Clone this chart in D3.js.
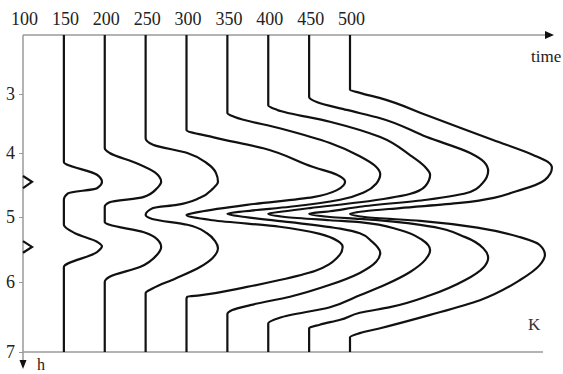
<!DOCTYPE html>
<html>
<head>
<meta charset="utf-8">
<script src="https://cdnjs.cloudflare.com/ajax/libs/d3/7.8.5/d3.min.js"></script>
<style>
  body { margin: 0; background: #fff; }
  svg { display: block; }
</style>
</head>
<body>
<div class="chart"></div>
<script>
// tick labels
var timeTicks = [100, 150, 200, 250, 300, 350, 400, 450, 500];
var hTicks = [3, 4, 5, 6, 7];

// each curve: [h, time] pairs
var curve100a = [[4.36, 100], [4.45, 111], [4.55, 100]];
var curve100b = [[5.37, 100], [5.46, 111], [5.55, 100]];
var curve150 = [[2, 150], [4.14, 150], [4.34, 190.5], [4.45, 196.6], [4.55, 190.5], [4.63, 155], [4.73, 150], [5.12, 150], [5.25, 163.6], [5.38, 190.5], [5.45, 196.6], [5.54, 190.5], [5.77, 150], [7, 150]];
var curve200 = [[2, 200], [3.92, 200], [4.00, 206], [4.16, 239], [4.30, 261], [4.45, 269], [4.55, 264], [4.69, 247], [4.77, 206], [4.84, 200], [5.08, 200], [5.12, 206], [5.23, 247], [5.31, 261], [5.46, 269], [5.58, 264], [5.77, 243], [5.92, 206], [6.00, 200], [7, 200]];
var curve250 = [[2, 250], [3.75, 250], [3.86, 259], [4.00, 301], [4.16, 325], [4.31, 336], [4.45, 338.5], [4.56, 332], [4.70, 316.5], [4.81, 288], [4.86, 259], [4.97, 250], [5.03, 258], [5.12, 301], [5.25, 325], [5.37, 335], [5.48, 338.5], [5.63, 332], [5.77, 316.5], [5.95, 286], [6.09, 259], [6.16, 250], [7, 250]];
var curve300 = [[2, 300], [3.61, 300], [3.73, 332], [3.92, 394], [4.22, 455], [4.34, 484], [4.45, 494], [4.58, 484], [4.69, 455], [4.81, 374], [4.92, 316], [4.97, 300], [5.05, 332], [5.15, 414], [5.26, 463], [5.37, 485], [5.46, 491], [5.63, 484], [5.83, 457], [5.97, 414], [6.07, 374], [6.19, 316], [6.21, 301], [6.24, 300], [7, 300]];
var curve350 = [[2, 350], [3.32, 350], [3.39, 359], [3.58, 414], [3.83, 475.5], [4.05, 512], [4.20, 530.6], [4.33, 537], [4.48, 532], [4.61, 518], [4.73, 488], [4.84, 426.6], [4.91, 371.6], [4.95, 350], [5.00, 371.6], [5.08, 426.6], [5.18, 488], [5.25, 512], [5.38, 527], [5.55, 537], [5.69, 532], [5.86, 512], [6.04, 475.5], [6.21, 426.6], [6.33, 378], [6.40, 356], [6.46, 350], [7, 350]];
var curve400 = [[2, 400], [3.19, 400], [3.27, 411], [3.47, 475.5], [3.73, 537], [4.03, 573], [4.22, 592], [4.34, 598], [4.52, 592], [4.64, 573], [4.77, 512], [4.86, 451], [4.91, 420.5], [4.95, 400], [5.00, 420.5], [5.05, 475.5], [5.08, 512], [5.20, 561], [5.35, 588], [5.51, 598], [5.66, 592], [5.85, 573], [6.04, 543], [6.19, 512], [6.36, 475.5], [6.51, 414], [6.59, 400], [7, 400]];
var curve450 = [[2, 450], [3.05, 450], [3.14, 460], [3.27, 496], [3.41, 537], [3.73, 594], [4.00, 647], [4.14, 664], [4.28, 669], [4.48, 661.5], [4.61, 647], [4.73, 594], [4.84, 512], [4.91, 475.5], [4.95, 450], [5.00, 475.5], [5.03, 512], [5.12, 586], [5.31, 641], [5.48, 663], [5.63, 669], [5.78, 663], [5.97, 641], [6.19, 598], [6.36, 549], [6.44, 512], [6.54, 488], [6.61, 463], [6.66, 450], [7, 450]];
var curve500 = [[2, 500], [2.93, 500], [2.98, 512], [3.07, 537], [3.36, 594], [3.78, 675], [4.03, 724], [4.14, 742], [4.23, 747], [4.42, 738.5], [4.58, 708], [4.78, 634.5], [4.86, 561], [4.91, 518], [4.95, 500], [5.00, 518], [5.06, 586], [5.17, 659], [5.31, 708], [5.43, 732], [5.58, 738.5], [5.74, 732], [5.97, 708], [6.26, 659], [6.47, 598], [6.66, 537], [6.73, 512], [6.79, 500], [7, 500]];

var curves = [curve150, curve200, curve250, curve300, curve350, curve400, curve450, curve500];
var markers = [curve100a, curve100b];

var width = 563;
var height = 374;
var axisColor = "#9a9a9a";
var font = "'Liberation Serif', 'Times New Roman', serif";

var svg = d3.select(".chart")
  .append("svg")
  .attr("width", width)
  .attr("height", height);

// time runs left to right, h runs down (spacing of h ticks is uneven in the source)
var xScale = d3.scaleLinear()
  .domain([100, 500])
  .range([23, 350]);

var yScale = d3.scaleLinear()
  .domain([2, 3, 4, 5, 6, 7])
  .range([35, 94, 153, 217, 282, 352]);

var x0 = xScale(100);
var y0 = yScale(2);

// top axis with time labels
var xAxis = d3.axisTop(xScale)
  .tickValues(timeTicks)
  .tickFormat(d3.format("d"))
  .tickSize(0)
  .tickPadding(10);

svg.append("g")
  .attr("transform", `translate(1, ${y0})`)
  .call(xAxis)
  .call(function (g) { g.select(".domain").remove(); })
  .selectAll("text")
  .style("font-family", font)
  .style("font-size", "18px")
  .style("fill", "#222");

// left axis with h labels
var yAxis = d3.axisLeft(yScale)
  .tickValues(hTicks)
  .tickFormat(d3.format("d"))
  .tickSize(4)
  .tickPadding(4);

var yg = svg.append("g")
  .attr("transform", `translate(${x0}, 0)`)
  .call(yAxis);
yg.select(".domain").remove();
yg.selectAll("line").attr("stroke", axisColor);
yg.selectAll("text")
  .style("font-family", font)
  .style("font-size", "18px")
  .style("fill", "#222");

// axis lines and arrows
svg.append("line")
  .attr("x1", x0).attr("y1", y0)
  .attr("x2", 546).attr("y2", y0)
  .attr("stroke", axisColor)
  .attr("stroke-width", 1.5);
svg.append("path")
  .attr("d", `M545,${y0 - 4}L554,${y0}L545,${y0 + 4}Z`)
  .attr("fill", "#111");

svg.append("line")
  .attr("x1", x0).attr("y1", y0)
  .attr("x2", x0).attr("y2", 361)
  .attr("stroke", axisColor)
  .attr("stroke-width", 1.5);
svg.append("path")
  .attr("d", `M${x0 - 3.5},360L${x0},369L${x0 + 3.5},360Z`)
  .attr("fill", "#111");

// bottom line at h = 7
svg.append("line")
  .attr("x1", x0).attr("y1", yScale(7))
  .attr("x2", 543).attr("y2", yScale(7))
  .attr("stroke", axisColor)
  .attr("stroke-width", 1.5);

// curves
var line = d3.line()
  .x(function (d) { return xScale(d[1]) })
  .y(function (d) { return yScale(d[0]) })
  .curve(d3.curveMonotoneY);

svg.selectAll(".curve")
  .data(curves).enter()
  .append("path")
  .attr("class", "curve")
  .attr("d", line)
  .style("fill", "none")
  .style("stroke", "#111")
  .style("stroke-width", 2.2);

var markLine = d3.line()
  .x(function (d) { return xScale(d[1]) })
  .y(function (d) { return yScale(d[0]) });

svg.selectAll(".mark")
  .data(markers).enter()
  .append("path")
  .attr("class", "mark")
  .attr("d", markLine)
  .style("fill", "none")
  .style("stroke", "#111")
  .style("stroke-width", 2.2);

// labels
svg.append("text")
  .attr("x", 531).attr("y", 62)
  .style("font-family", font)
  .style("font-size", "17px")
  .style("fill", "#222")
  .text("time");

svg.append("text")
  .attr("x", 528).attr("y", 330)
  .style("font-family", font)
  .style("font-size", "17px")
  .style("fill", "#333")
  .text("K");

svg.append("text")
  .attr("x", 37).attr("y", 370)
  .style("font-family", font)
  .style("font-size", "16px")
  .style("fill", "#222")
  .text("h");
</script>
</body>
</html>
